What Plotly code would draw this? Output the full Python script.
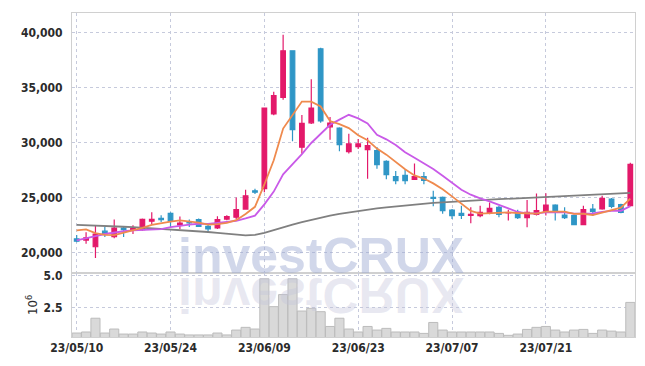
import plotly.graph_objects as go
from plotly.subplots import make_subplots

dates = ["23/05/10", "23/05/11", "23/05/12", "23/05/15", "23/05/16", "23/05/17", "23/05/18", "23/05/19",
         "23/05/22", "23/05/23", "23/05/24", "23/05/25", "23/05/26", "23/05/30", "23/05/31",
         "23/06/01", "23/06/02", "23/06/05", "23/06/07", "23/06/08", "23/06/09", "23/06/12", "23/06/13",
         "23/06/14", "23/06/15", "23/06/16", "23/06/19", "23/06/20", "23/06/21", "23/06/22", "23/06/23",
         "23/06/26", "23/06/27", "23/06/28", "23/06/29", "23/06/30",
         "23/07/03", "23/07/04", "23/07/05", "23/07/06", "23/07/07", "23/07/10", "23/07/11", "23/07/12",
         "23/07/13", "23/07/14", "23/07/17", "23/07/18", "23/07/19", "23/07/20", "23/07/21", "23/07/24",
         "23/07/25", "23/07/26", "23/07/27", "23/07/28", "23/07/31",
         "23/08/01", "23/08/02", "23/08/03"]

opens = [21250, 21150, 20540, 21960, 21450, 22230, 22050, 22100, 22860, 23130,
         23580, 22520, 22780, 23010, 22400, 22250, 23060, 23220, 23960, 25620,
         25830, 32610, 34120, 38350, 29590, 31800, 38530, 31440, 31330, 29190,
         29640, 29370, 29280, 28290, 26910, 27030, 26670, 26910, 25020, 25020,
         23870, 23580, 23400, 23370, 23670, 24120, 23610, 23670, 23190, 23490,
         23700, 24330, 23420, 23370, 22560, 23970, 23970, 24870, 24360, 24270]
highs = [21600, 21860, 22470, 22330, 23010, 22330, 22500, 23100, 23670, 23400,
         23670, 23300, 23010, 23100, 22600, 23310, 23400, 25020, 25710, 25800,
         33150, 34630, 39800, 38400, 32520, 35770, 38620, 32320, 31400, 30810,
         30340, 30440, 29600, 28400, 27420, 27570, 28110, 27330, 25620, 25100,
         23960, 24270, 24120, 24270, 24570, 24270, 23910, 23910, 24780, 25380,
         25400, 24400, 24120, 23450, 24270, 24420, 25170, 24960, 24450, 28170]
lows = [20950, 20810, 19520, 21420, 21320, 21420, 21700, 22000, 22600, 22800,
        22330, 22160, 22330, 22330, 21870, 22160, 22950, 23060, 23900, 25340,
        25500, 32500, 33900, 30130, 28980, 31690, 31800, 30270, 29220, 29010,
        29430, 26730, 27630, 26670, 26220, 26220, 26610, 26220, 24210, 23550,
        23060, 23060, 22680, 23220, 23490, 23220, 22920, 23060, 22320, 23370,
        23370, 22920, 23060, 22500, 22500, 23330, 23900, 24030, 23580, 24200]
closes = [21050, 21350, 21690, 21700, 22230, 22100, 22200, 23040, 23040, 23000,
          22860, 22700, 22700, 22380, 22160, 23010, 23280, 23910, 25170, 25500,
          33130, 34270, 38350, 31170, 31750, 33130, 31980, 31780, 29820, 29880,
          29880, 29730, 27990, 27090, 26550, 26550, 26910, 26580, 24930, 23820,
          23370, 23380, 23490, 23670, 24030, 23490, 23650, 23190, 23670, 23820,
          24330, 23700, 23190, 22560, 23910, 23760, 24930, 24210, 23670, 28020]

ma_short = [22020, 22110, 21780, 21620, 21600, 21810, 21980, 22250, 22520, 22680,
            22830, 22930, 22860, 22730, 22560, 22590, 22710, 22950, 23510, 24170,
            26200, 28400, 31280, 32480, 33730, 33730, 33280, 31960, 31690, 31320,
            30670, 30220, 29460, 28910, 28250, 27580, 27020, 26740, 26300, 25760,
            25120, 24420, 23800, 23550, 23590, 23610, 23670, 23610, 23610, 23560,
            23730, 23740, 23740, 23520, 23540, 23420, 23670, 23870, 24100, 24920]
ma_mid = [21120, 21280, 21500, 21700, 21850, 21950, 22030, 22080, 22120, 22140,
          22320, 22460, 22560, 22630, 22620, 22710, 22820, 22900, 23120, 23370,
          24390, 25550, 27120, 28000, 28950, 29970, 30840, 31620, 32090, 32530,
          32200, 31750, 30710, 30300, 29780, 29130, 28620, 28100, 27610, 27000,
          26350, 25720, 25270, 24930, 24670, 24370, 24040, 23700, 23580, 23580,
          23670, 23700, 23670, 23560, 23550, 23580, 23710, 23810, 23810, 24230]
ma_long = [22520, 22500, 22470, 22440, 22400, 22360, 22320, 22270, 22220, 22170,
           22120, 22070, 22010, 21950, 21880, 21800, 21730, 21650, 21580, 21620,
           21800, 22050, 22320, 22550, 22780, 23000, 23215, 23380, 23530, 23670,
           23800, 23920, 24030, 24120, 24210, 24300, 24380, 24450, 24520, 24580,
           24640, 24690, 24740, 24780, 24820, 24860, 24900, 24940, 24980, 25020,
           25060, 25100, 25140, 25180, 25220, 25260, 25300, 25340, 25380, 25440]

volume = [0.53, 0.61, 1.68, 0.53, 0.84, 0.45, 0.45, 0.61, 0.53, 0.45,
          0.61, 0.45, 0.38, 0.38, 0.38, 0.53, 0.38, 0.76, 0.97, 0.84,
          4.75, 2.58, 3.52, 4.75, 2.24, 2.45, 2.19, 1.04, 1.68, 0.84,
          0.61, 1.04, 0.76, 0.89, 0.61, 0.61, 0.61, 0.50, 1.35, 0.76,
          0.61, 0.61, 0.61, 0.61, 0.61, 0.50, 0.35, 0.45, 0.81, 0.97,
          1.04, 0.76, 0.61, 0.76, 0.81, 0.50, 0.76, 0.68, 0.61, 2.91]

x_ticks = ["23/05/10", "23/05/24", "23/06/09", "23/06/23", "23/07/07", "23/07/21"]
price_ticks = [20000, 25000, 30000, 35000, 40000]
vol_ticks = [2.5, 5.0]
vol_tick_text = ["2.5", "5.0"]

PINK = "#e3196a"
BLUE = "#2f96c6"
GRID = "#c6cadc"
FRAME = "#d0d0d0"
TXT = "#2b2b2b"
FAMILY = "DejaVu Sans Condensed, DejaVu Sans"
TICKFONT = dict(family=FAMILY, size=12, color=TXT, weight="bold")

fig = make_subplots(rows=2, cols=1, shared_xaxes=True, vertical_spacing=0,
                    row_heights=[0.802, 0.198])

fig.add_trace(go.Candlestick(
    x=dates, open=opens, high=highs, low=lows, close=closes,
    increasing=dict(line=dict(color=PINK, width=1.2), fillcolor=PINK),
    decreasing=dict(line=dict(color=BLUE, width=1.2), fillcolor=BLUE),
    whiskerwidth=0, hoverinfo="skip"), row=1, col=1)
fig.add_trace(go.Scatter(x=dates, y=ma_long, mode="lines",
                         line=dict(color="#808080", width=1.8)), row=1, col=1)
fig.add_trace(go.Scatter(x=dates, y=ma_mid, mode="lines",
                         line=dict(color="#c95ae8", width=1.8)), row=1, col=1)
fig.add_trace(go.Scatter(x=dates, y=ma_short, mode="lines",
                         line=dict(color="#ef8a4e", width=1.8)), row=1, col=1)
fig.add_trace(go.Bar(x=dates, y=volume, marker=dict(color="#d9d9d9",
                     line=dict(color="#bcbcbc", width=1))), row=2, col=1)

axis_common = dict(showline=True, linecolor=FRAME, linewidth=1, mirror=True,
                   showgrid=True, gridcolor=GRID, griddash="dot", gridwidth=1,
                   ticks="", zeroline=False, tickfont=TICKFONT)

fig.update_xaxes(type="category", tickvals=x_ticks, range=[-0.5, 59.5],
                 rangeslider_visible=False, **axis_common)
fig.update_xaxes(showticklabels=False, row=1, col=1)
fig.update_xaxes(showticklabels=True, row=2, col=1)
fig.update_yaxes(range=[18170, 41780], tickvals=price_ticks, tickformat=",",
                 ticklabelstandoff=6, row=1, col=1, **axis_common)
fig.update_yaxes(range=[0.22, 5.21], tickvals=vol_ticks, ticktext=vol_tick_text,
                 title=dict(text="10<sup>6</sup>", font=dict(family=FAMILY, size=13, color=TXT),
                            standoff=2),
                 ticklabelstandoff=6, row=2, col=1, **axis_common)

fig.add_annotation(text="<b>investCRUX</b>", xref="paper", yref="paper",
                   x=0.4414, y=0.156, xanchor="center", yanchor="bottom", showarrow=False,
                   font=dict(family="Liberation Sans", size=50, color="rgba(155,168,210,0.46)"))
fig.add_annotation(text="<b>investCRUX</b>", xref="paper", yref="paper",
                   x=0.4414, y=0.221, xanchor="center", yanchor="top", showarrow=False,
                   font=dict(family="Liberation Sans", size=50, color="rgba(195,196,218,0.38)"))

fig.update_layout(width=645, height=366, showlegend=False, bargap=0.03,
                  margin=dict(l=72, r=10, t=9, b=29),
                  plot_bgcolor="white", paper_bgcolor="white")

post = """
var st = document.createElement('style');
st.innerHTML = '.infolayer g.annotation[data-index="1"] text {transform-box: fill-box; transform-origin: center; transform: scaleY(-1);}';
document.head.appendChild(st);
"""
fig.write_html("out.html", post_script=post)
